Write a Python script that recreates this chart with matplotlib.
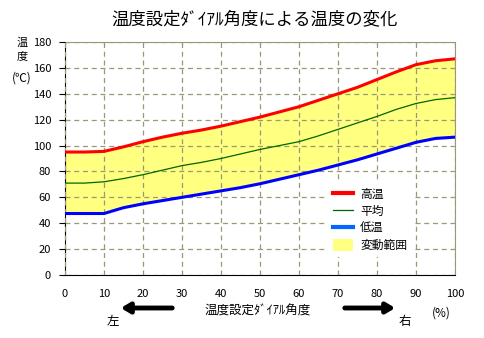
import matplotlib
matplotlib.use("Agg")
import matplotlib.pyplot as plt
from matplotlib.patches import Patch
from matplotlib.lines import Line2D

plt.rcParams['font.family'] = ['Noto Sans CJK JP', 'DejaVu Sans']

# dial angle (%) and temperatures
angle = [0, 5, 10, 15, 20, 25, 30, 35, 40, 45, 50, 55, 60, 65, 70, 75, 80, 85, 90, 95, 100]
high = [95, 95, 95.5, 99, 103, 106.5, 109.5, 112, 115, 118.5, 122, 126, 130, 135, 140, 145, 151, 157, 162.5, 165.5, 167]
avg = [71, 71, 72, 74.5, 77.5, 81, 84.5, 87, 90, 93.5, 97, 100, 103, 107.5, 112.5, 117.5, 122.5, 128, 132.5, 135.5, 137]
low = [47.5, 47.5, 47.5, 52, 55, 57.5, 60, 62.5, 65, 67.5, 70.5, 74, 77.5, 81, 85, 89, 93.5, 98, 102.5, 105.5, 106.5]

x_ticks = list(range(0, 101, 10))
y_ticks = list(range(0, 181, 20))

fig = plt.figure(figsize=(4.84, 3.38), dpi=100)
ax = fig.add_axes([65 / 484, 1 - 275 / 338, 390 / 484, 233 / 338])

grid_col = '#999977'
ax.fill_between(angle, low, high, color='#ffff80', lw=0, zorder=1)
ax.plot(angle, high, color='#ff0000', lw=2.2, zorder=3)
ax.plot(angle, avg, color='#006600', lw=0.9, zorder=3)
ax.plot(angle, low, color='#0000ff', lw=2.2, zorder=3)

ax.set_xlim(0, 100)
ax.set_ylim(0, 180)
ax.set_xticks(x_ticks)
ax.set_yticks(y_ticks)
ax.tick_params(axis='x', length=0, pad=10, labelsize=8)
ax.tick_params(axis='y', length=4, direction='out', pad=6, labelsize=8)
ax.grid(True, color=grid_col, ls=(0, (4, 3)), lw=0.9, zorder=2)
ax.set_axisbelow(False)
for s in ['top', 'right']:
    ax.spines[s].set_color(grid_col)
ax.spines['left'].set_color('black')
ax.spines['bottom'].set_color('black')

handles = [Line2D([], [], color='#ff0000', lw=3),
           Line2D([], [], color='#006600', lw=0.9),
           Line2D([], [], color='#0066ff', lw=3),
           Patch(facecolor='#ffff80', edgecolor='none')]
labels = ['高温', '平均', '低温', '変動範囲']
leg = ax.legend(handles, labels, loc='upper left', bbox_to_anchor=(0.66, 0.42),
                frameon=True, facecolor='white', edgecolor='none', framealpha=1,
                fancybox=False, fontsize=8.5, handlelength=1.7, handleheight=1.2,
                labelspacing=0.35, handletextpad=0.6, borderpad=0.4)
leg.set_zorder(5)

fig.text(254 / 484, 1 - 19 / 338, '温度設定ﾀﾞｲｱﾙ角度による温度の変化',
         ha='center', va='center', fontsize=12.5)
fig.text(22 / 484, 1 - 43 / 338, '温', ha='center', va='center', fontsize=8)
fig.text(22 / 484, 1 - 56 / 338, '度', ha='center', va='center', fontsize=8)
fig.text(22 / 484, 1 - 78 / 338, '(℃)', ha='center', va='center', fontsize=8.5)

fig.text(258 / 484, 1 - 311 / 338, '温度設定ﾀﾞｲｱﾙ角度', ha='center', va='center', fontsize=9)
fig.text(113 / 484, 1 - 322 / 338, '左', ha='center', va='center', fontsize=9)
fig.text(405 / 484, 1 - 322 / 338, '右', ha='center', va='center', fontsize=9)
fig.text(441 / 484, 1 - 313 / 338, '(%)', ha='center', va='center', fontsize=8.5)

arrow = dict(arrowstyle='-|>,head_length=0.5,head_width=0.3', color='black', lw=3.5)
ax.annotate('', xy=(118 / 484, 1 - 308 / 338), xytext=(175 / 484, 1 - 308 / 338),
            xycoords='figure fraction', arrowprops=arrow, annotation_clip=False)
ax.annotate('', xy=(398 / 484, 1 - 308 / 338), xytext=(342 / 484, 1 - 308 / 338),
            xycoords='figure fraction', arrowprops=arrow, annotation_clip=False)

fig.savefig('out.png', dpi=100)
